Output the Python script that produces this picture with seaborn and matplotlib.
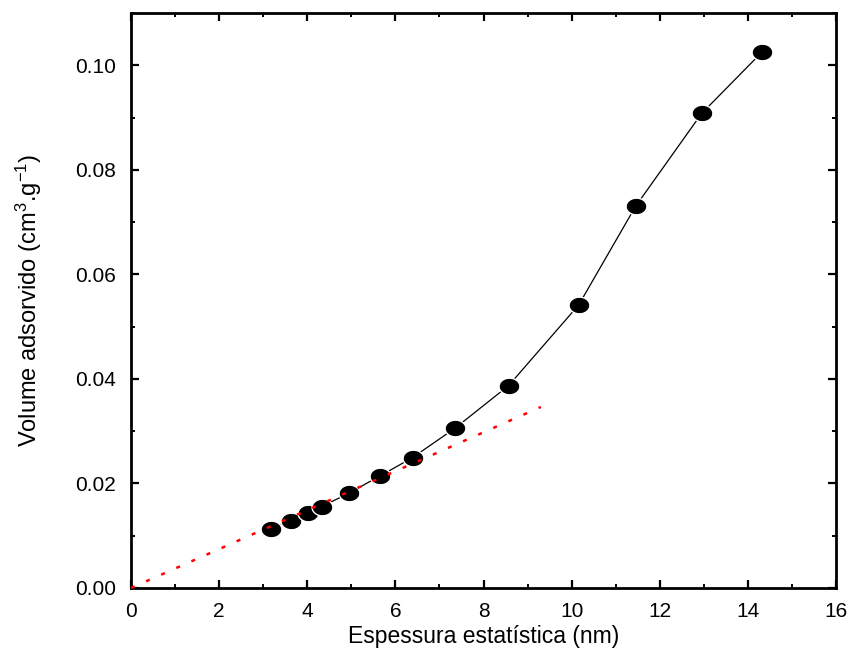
import numpy as np
import pandas as pd
import matplotlib
matplotlib.use("Agg")
import matplotlib.pyplot as plt
from matplotlib.path import Path
from matplotlib.ticker import MultipleLocator, FormatStrFormatter
import seaborn as sns

# t-plot: adsorbed volume vs. statistical thickness
thickness_nm = [3.17, 3.63, 4.01, 4.33, 4.94, 5.64, 6.39, 7.35, 8.57,
                10.16, 11.45, 12.95, 14.32]
volume_cm3_g = [0.01132, 0.01291, 0.01430, 0.01558, 0.01813, 0.02138,
                0.02495, 0.03055, 0.03872, 0.05415, 0.07300, 0.09078,
                0.10252]

# linear fit through the origin (low-thickness region)
fit_x = [0.0, 9.3]
fit_y = [0.0, 0.03463]

sns.set_theme(style="ticks")
plt.rcParams["font.family"] = ["Liberation Sans", "DejaVu Sans"]
plt.rcParams["mathtext.fontset"] = "custom"
plt.rcParams["mathtext.rm"] = "Liberation Sans"
plt.rcParams["mathtext.it"] = "Liberation Sans"
plt.rcParams["text.color"] = "black"
plt.rcParams["axes.labelcolor"] = "black"

data = pd.DataFrame({"t": thickness_nm, "v": volume_cm3_g})
fit = pd.DataFrame({"t": fit_x, "v": fit_y})

fig = plt.figure(figsize=(8.53, 6.5), dpi=100)
ax = fig.add_axes([0.1536, 0.0954, 0.8265, 0.8846])

# elliptical marker (wider than tall)
theta = np.linspace(0, 2 * np.pi, 60)
ellipse = Path(np.column_stack([np.cos(theta), 0.8 * np.sin(theta)]), closed=True)

sns.lineplot(data=data, x="t", y="v", ax=ax, color="black", lw=0.9,
             marker=ellipse, markersize=15, markerfacecolor="black",
             markeredgecolor="white", markeredgewidth=1.0,
             sort=False, zorder=3)
sns.lineplot(data=fit, x="t", y="v", ax=ax, color="red", lw=1.8,
             linestyle=(0, (1.6, 5.0)), sort=False, zorder=4, clip_on=False)

ax.set_xlim(0, 16)
ax.set_ylim(0, 0.11)
ax.xaxis.set_major_locator(MultipleLocator(2))
ax.xaxis.set_minor_locator(MultipleLocator(1))
ax.yaxis.set_major_locator(MultipleLocator(0.02))
ax.yaxis.set_minor_locator(MultipleLocator(0.01))
ax.xaxis.set_major_formatter(FormatStrFormatter("%d"))
ax.yaxis.set_major_formatter(FormatStrFormatter("%.2f"))

for s in ax.spines.values():
    s.set_visible(True)
    s.set_linewidth(2.0)
    s.set_color("black")
    s.set_zorder(2.5)

ax.tick_params(which="both", direction="in", top=True, right=True,
               color="black", labelcolor="black")
ax.tick_params(which="major", length=5.5, width=1.6, labelsize=15)
ax.tick_params(which="minor", length=3.2, width=1.4)
ax.tick_params(axis="y", which="major", pad=11)
ax.tick_params(axis="x", which="major", pad=10)

ax.set_xlabel("Espessura estatística (nm)", fontsize=16.5, labelpad=3)
ax.set_ylabel(r"Volume adsorvido (cm$^{3}$.g$^{-1}$)", fontsize=17,
              labelpad=22)

fig.savefig("out.png", dpi=100, facecolor="white")
